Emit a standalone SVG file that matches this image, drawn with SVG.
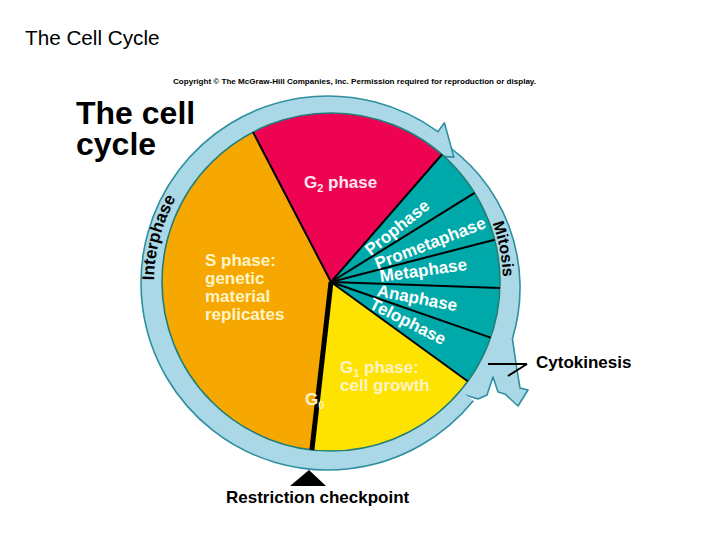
<svg xmlns="http://www.w3.org/2000/svg" width="720" height="540" viewBox="0 0 720 540">
<style>
.band{fill:#aad8e6;stroke:none}
.bandline{fill:none;stroke:#2e8fa0;stroke-width:1.6;stroke-linejoin:round}
.div{stroke:#000;stroke-width:2;fill:none}
.lbl{font-family:"Liberation Sans",Arial,sans-serif;font-weight:bold}
.w{fill:#ffffff}
.cream{fill:#fff4c8}
.pink{fill:#ffe6ee}
.blk{fill:#000}
</style>
<rect width="720" height="540" fill="#fff"/>
<g id="title">
<text x="25" y="45" font-family="'Liberation Sans',Arial,sans-serif" font-size="20.7" fill="#000">The Cell Cycle</text>
<text x="173" y="84" class="lbl blk" font-size="8" textLength="363" lengthAdjust="spacingAndGlyphs">Copyright © The McGraw-Hill Companies, Inc. Permission required for reproduction or display.</text>
<text class="lbl blk" font-size="32" x="76" y="124">The cell</text>
<text class="lbl blk" font-size="32" x="76" y="155">cycle</text>
</g>
<g id="mitosis-band">
<path class="band" d="M437.7,139.1 A175,175 0 0 1 512.4,338.7 L517,370 L520,388 L528,390 L518,406 L505,394 L498,392 L493,377 L487,395 L478,399 L462,394 L450,385 L430,170 L432,148 Z"/>
<path class="bandline" d="M437.7,139.1 A175,175 0 0 1 512.4,338.7 L517,370 L520,388 L528,390 L518,406 L505,394 L498,392 L493,377 L487,395 L478,399 L462,394 L450,385"/>
</g>
<g id="interphase-band">
<path class="band" d="M473.3,400.7 A187,187 0 1 1 437.9,131.7 L444.4,122.8 L453.9,157.1 L420.9,155.2 L422.0,153.6 A160,160 0 1 0 452.3,383.7 Z"/>
<path class="bandline" d="M473.3,400.7 A187,187 0 1 1 437.9,131.7 L444.4,122.8 L453.9,157.1 L420.9,155.2 L422.0,153.6 A160,160 0 1 0 452.3,383.7"/>
</g>
<g id="pie">
<g id="mitosis"><path d="M331,282 L441.9,154.5 A169,169 0 0 1 467.7,381.3 Z" fill="#00a9a9"/></g>
<g id="g1"><path d="M331,282 L467.7,381.3 A169,169 0 0 1 311.9,449.9 Z" fill="#ffe300"/></g>
<g id="s"><path d="M331,282 L311.9,449.9 A169,169 0 0 1 253.0,132.1 Z" fill="#f7a800"/></g>
<g id="g2"><path d="M331,282 L253.0,132.1 A169,169 0 0 1 441.9,154.5 Z" fill="#ee0352"/></g>
<circle cx="331" cy="282" r="169" fill="none" stroke="#1f7f78" stroke-width="1.6"/>
<g id="dividers">
<line class="div" x1="331" y1="282" x2="253.0" y2="132.1"/>
<line class="div" x1="331" y1="282" x2="441.9" y2="154.5"/>
<line class="div" x1="331" y1="282" x2="474.6" y2="192.9"/>
<line class="div" x1="331" y1="282" x2="494.6" y2="239.7"/>
<line class="div" x1="331" y1="282" x2="499.9" y2="287.9"/>
<line class="div" x1="331" y1="282" x2="490.6" y2="337.6"/>
<line class="div" x1="331" y1="282" x2="467.7" y2="381.3"/>
<line x1="331" y1="282" x2="311.9" y2="449.9" stroke="#000" stroke-width="5"/>
</g>
</g>
<g id="phase-labels">
<text class="lbl pink" font-size="17" x="304" y="188">G<tspan font-size="11" dy="4">2</tspan><tspan dy="-4"> phase</tspan></text>
<text class="lbl cream" font-size="17" x="205" y="266">S phase:</text>
<text class="lbl cream" font-size="17" x="205" y="284">genetic</text>
<text class="lbl cream" font-size="17" x="205" y="302">material</text>
<text class="lbl cream" font-size="17" x="205" y="320">replicates</text>
<text class="lbl cream" font-size="17" x="340" y="373">G<tspan font-size="11" dy="4">1</tspan><tspan dy="-4"> phase:</tspan></text>
<text class="lbl cream" font-size="17" x="340" y="391">cell growth</text>
<text class="lbl cream" font-size="17" x="305" y="405">G<tspan font-size="11" dy="4">0</tspan></text>
<g transform="translate(331,282)">
<text class="lbl w" font-size="17" transform="rotate(-39)" x="47" y="5">Prophase</text>
<text class="lbl w" font-size="17" transform="rotate(-21)" x="48" y="5">Prometaphase</text>
<text class="lbl w" font-size="17" transform="rotate(-8)" x="49" y="7">Metaphase</text>
<text class="lbl w" font-size="17" transform="rotate(11)" x="47" y="5">Anaphase</text>
<text class="lbl w" font-size="17" transform="rotate(27)" x="45" y="6">Telophase</text>
</g>
</g>
<defs>
<path id="interArc" d="M177.3,370 A174,174 0 0 1 241,132.3"/>
<path id="mitArc" d="M425.9,137.9 A175,175 0 0 1 473.1,380.9"/>
</defs>
<g id="band-labels">
<text class="lbl blk" font-size="17"><textPath href="#interArc" startOffset="50%" text-anchor="middle">Interphase</textPath></text>
<text class="lbl blk" font-size="16"><textPath href="#mitArc" startOffset="50%" text-anchor="middle">Mitosis</textPath></text>
</g>
<g id="connectors">
<line x1="488" y1="364" x2="527" y2="364" stroke="#000" stroke-width="2"/>
<line x1="508" y1="376" x2="527" y2="364" stroke="#000" stroke-width="2"/>
<polygon points="309,470 290,486 326,486" fill="#000"/>
</g>
<g id="callouts">
<text class="lbl blk" font-size="17" x="536" y="368">Cytokinesis</text>
<text class="lbl blk" font-size="17" x="226" y="503">Restriction checkpoint</text>
</g>
</svg>
